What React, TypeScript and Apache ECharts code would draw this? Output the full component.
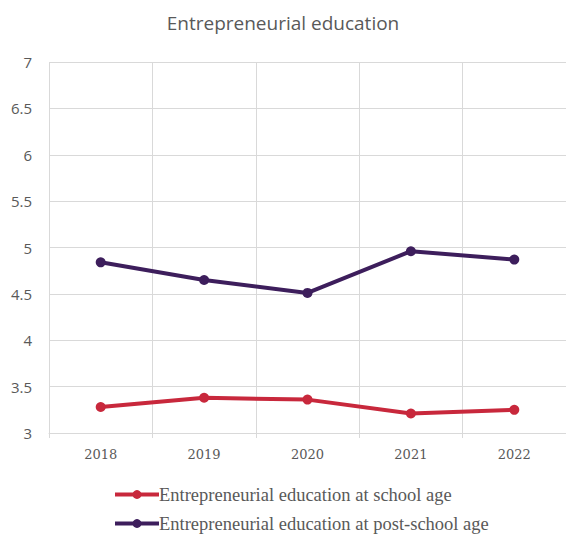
import React, { useEffect, useRef } from "react";
import * as echarts from "echarts";

const years = ["2018", "2019", "2020", "2021", "2022"];
const schoolAge = [3.28, 3.38, 3.36, 3.21, 3.25];
const postSchoolAge = [4.84, 4.65, 4.51, 4.96, 4.87];
const seriesNames = [
  "Entrepreneurial education at school age",
  "Entrepreneurial education at post-school age",
];

const legendText = {
  fontFamily: "Liberation Serif",
  fontSize: 18.5,
  color: "#595959",
  padding: [0, 0, 0, -5],
};

export default function App() {
  const ref = useRef<HTMLDivElement>(null);
  useEffect(() => {
    if (!ref.current) return;
    const chart = echarts.init(ref.current, null, { renderer: "svg" });
    chart.setOption({
      animation: false,
      backgroundColor: "#ffffff",
      title: {
        text: "Entrepreneurial education",
        left: "center",
        top: 8,
        textStyle: {
          fontFamily: "Open Sans",
          fontWeight: "normal",
          fontSize: 19,
          color: "#595959",
        },
      },
      legend: [
        {
          left: 108,
          top: 480,
          itemWidth: 44,
          itemHeight: 11,
          lineStyle: { width: 4 },
          textStyle: legendText,
          data: [seriesNames[0]],
        },
        {
          left: 108,
          top: 509,
          itemWidth: 44,
          itemHeight: 11,
          lineStyle: { width: 4 },
          textStyle: legendText,
          data: [seriesNames[1]],
        },
      ],
      grid: { left: 49, top: 62, width: 520, height: 371 },
      xAxis: {
        type: "category",
        data: years,
        boundaryGap: true,
        axisLine: { lineStyle: { color: "#d9d9d9", width: 1 } },
        axisTick: { show: true, length: 5, lineStyle: { color: "#d9d9d9" } },
        axisLabel: {
          fontFamily: "DejaVu Serif",
          fontSize: 13,
          color: "#595959",
          margin: 15,
        },
        splitLine: { show: true, lineStyle: { color: "#d9d9d9", width: 1 } },
      },
      yAxis: {
        type: "value",
        min: 3,
        max: 7,
        interval: 0.5,
        axisLine: { show: false },
        axisTick: { show: false },
        axisLabel: {
          fontFamily: "Open Sans",
          fontSize: 15,
          color: "#595959",
          margin: 17,
        },
        splitLine: { lineStyle: { color: "#d9d9d9", width: 1 } },
      },
      series: [
        {
          name: seriesNames[0],
          type: "line",
          data: schoolAge,
          symbol: "circle",
          symbolSize: 10,
          lineStyle: { width: 4, color: "#c8283c" },
          itemStyle: { color: "#c8283c" },
        },
        {
          name: seriesNames[1],
          type: "line",
          data: postSchoolAge,
          symbol: "circle",
          symbolSize: 10,
          lineStyle: { width: 4, color: "#3d1e5c" },
          itemStyle: { color: "#3d1e5c" },
        },
      ],
    });
    return () => chart.dispose();
  }, []);
  return <div ref={ref} style={{ width: 566, height: 535, position: "absolute", left: 0, top: 0 }} />;
}
